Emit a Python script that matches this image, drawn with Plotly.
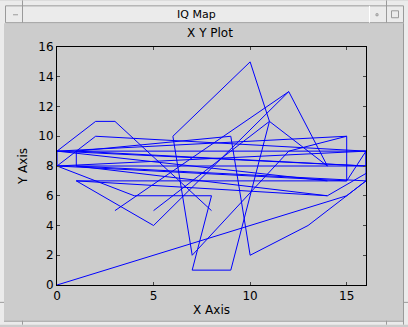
import plotly.graph_objects as go

# polyline vertices (None = pen up); points beyond x=16 are clipped by the axis range
xs = [8, 3, 2, 0, 15, 12, 7, 6, 10, 11, 14, 12, 3, None,
      15, 15, 16, 2, 0, 4, 8, 7, 9, 11, None,
      0, 15, 17, None,
      18, 14, 1, 5, 12, None,
      15, 1, None,
      16, 13, 10, 9, 1, 1, 14, None,
      5, 11, None,
      15, 0, 16, 16, 0, 16, 16, 0, 0, 14, None,
      1, 16, 16, 1]
ys = [5, 11, 11, 9, 10, 9, 2, 10, 15, 11, 8, 13, 5, None,
      10, 7, 9, 10, 8, 6, 6, 1, 1, 11, None,
      0, 6, 8, None,
      9, 6, 7, 4, 13, None,
      7, 7, None,
      7, 4, 2, 10, 9, 8, 6, None,
      5, 11, None,
      7, 8, 8, 9, 9, 8, 9, 8, 9, 7, None,
      9, 8, 7, 8]

title_text = "X Y Plot"
window_title = "IQ Map"
x_label = "X Axis"
y_label = "Y Axis"
x_ticks = [0, 5, 10, 15]
y_ticks = [0, 2, 4, 6, 8, 10, 12, 14, 16]

FONT = "DejaVu Sans, Verdana, sans-serif"
L, R, T, B, W, H = 57, 42, 47, 40, 408, 327
PW, PH = W - L - R, H - T - B


def px(x):
    return (x - L) / PW


def py(y):
    return (H - B - y) / PH


fig = go.Figure()
fig.add_trace(go.Scatter(x=xs, y=ys, mode="lines", connectgaps=False,
                         line=dict(color="#0000ff", width=1), hoverinfo="skip"))

LIGHT = "#ebebeb"
EDGE = "#9a9a9a"
shapes = [
    dict(type="rect", x0=px(0), x1=px(W), y0=py(H), y1=py(0), fillcolor=LIGHT, line=dict(width=0)),
    dict(type="rect", x0=px(4), x1=px(403), y0=py(323), y1=py(23), fillcolor="#cccccc",
         line=dict(width=0)),
    # title bar
    dict(type="rect", x0=px(5.5), x1=px(403.5), y0=py(22.5), y1=py(5.5), fillcolor=LIGHT,
         line=dict(color=EDGE, width=1)),
    dict(type="line", x0=px(22.5), x1=px(22.5), y0=py(0), y1=py(22.5), line=dict(color=EDGE, width=1)),
    dict(type="line", x0=px(386.5), x1=px(386.5), y0=py(0), y1=py(22.5), line=dict(color=EDGE, width=1)),
    dict(type="line", x0=px(369.5), x1=px(369.5), y0=py(5.5), y1=py(22.5), line=dict(color="#ffffff", width=1)),
    dict(type="line", x0=px(13), x1=px(18), y0=py(14.5), y1=py(14.5), line=dict(color=EDGE, width=1)),
    dict(type="rect", x0=px(391.5), x1=px(398.5), y0=py(17.5), y1=py(10.5), line=dict(color=EDGE, width=1)),
    dict(type="rect", x0=px(376), x1=px(378), y0=py(15.5), y1=py(13.5), line=dict(color=EDGE, width=1)),
    # lower frame marks
    dict(type="line", x0=px(4), x1=px(403.5), y0=py(323.5), y1=py(323.5), line=dict(color=EDGE, width=1)),
    dict(type="line", x0=px(403.5), x1=px(403.5), y0=py(23), y1=py(327), line=dict(color=EDGE, width=1)),
    dict(type="line", x0=px(22.5), x1=px(22.5), y0=py(323), y1=py(327), line=dict(color=EDGE, width=1)),
    dict(type="line", x0=px(386.5), x1=px(386.5), y0=py(323), y1=py(327), line=dict(color=EDGE, width=1)),
    dict(type="line", x0=px(0), x1=px(4), y0=py(304.5), y1=py(304.5), line=dict(color=EDGE, width=1)),
    dict(type="line", x0=px(403), x1=px(408), y0=py(304.5), y1=py(304.5), line=dict(color=EDGE, width=1)),
]
for s in shapes:
    s.update(xref="paper", yref="paper", layer="below")

fig.update_layout(
    width=W, height=H,
    margin=dict(l=L, r=R, t=T, b=B, pad=0),
    paper_bgcolor="#cccccc", plot_bgcolor="#ffffff",
    showlegend=False,
    shapes=shapes,
    font=dict(family=FONT, size=12, color="#000000"),
    title=dict(text=title_text, x=px(210), xanchor="center", xref="paper",
               y=1 - 33 / H, yanchor="middle", font=dict(family=FONT, size=12, color="#000000")),
    xaxis=dict(range=[0, 16], tickvals=x_ticks, ticks="inside", ticklen=3, mirror="ticks",
               showline=True, linecolor="#000000", linewidth=1, showgrid=False, zeroline=False,
               title=dict(text=x_label, standoff=3, font=dict(size=12)),
               tickfont=dict(size=12)),
    yaxis=dict(range=[0, 16], tickvals=y_ticks, ticks="inside", ticklen=3, mirror="ticks",
               showline=True, linecolor="#000000", linewidth=1, showgrid=False, zeroline=False,
               title=dict(text=y_label, standoff=8, font=dict(size=12)),
               tickfont=dict(size=12)),
)

fig.add_annotation(text=window_title, xref="paper", yref="paper", x=px(196.5), y=py(14),
                   showarrow=False, font=dict(family=FONT, size=11, color="#000000"),
                   xanchor="center", yanchor="middle")
fig.write_html("out.html")
